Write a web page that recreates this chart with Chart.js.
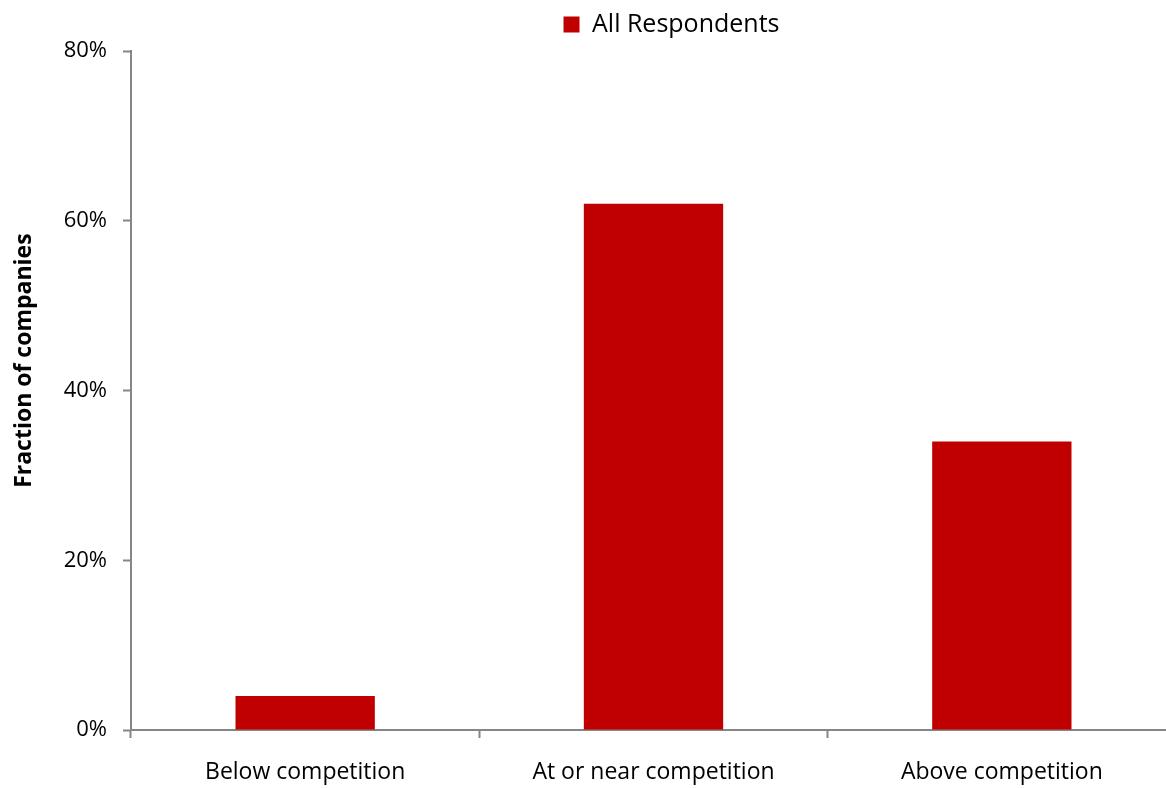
<!DOCTYPE html>
<html>
<head>
<meta charset="utf-8">
<script src="https://cdn.jsdelivr.net/npm/chart.js@4/dist/chart.umd.min.js"></script>
<style>
  html, body { margin: 0; padding: 0; background: #fff; overflow: hidden; }
  #wrap { width: 1180px; height: 788px; }
</style>
</head>
<body>
<div id="wrap"><canvas id="pricing-chart"></canvas></div>
<script>
const categories = ['Below competition', 'At or near competition', 'Above competition'];
const allRespondents = [4, 62, 34];
const yTicks = [0, 20, 40, 60, 80];

const axisGray = '#868686';
const barRed = '#C00000';

// rotated axis title, drawn a little above the middle of the axis
const sideTitle = {
    id: 'sideTitle',
    afterDraw(chart) {
        const c = chart.ctx;
        const area = chart.chartArea;
        c.save();
        c.translate(24, area.top + (area.bottom - area.top) * 0.456);
        c.rotate(-Math.PI / 2);
        c.font = 'bold 23px "Open Sans"';
        c.fillStyle = '#000';
        c.textAlign = 'center';
        c.textBaseline = 'middle';
        c.fillText('Fraction of companies', 0, 0);
        c.restore();
    }
};

// nudge the legend right of the plot centre and a bit higher
const legendShift = {
    id: 'legendShift',
    afterLayout(chart) {
        const lg = chart.legend;
        const area = chart.chartArea;
        const dx = (area.left + area.right) / 2 + 18 - (lg.left + lg.right) / 2;
        lg.left += dx;
        lg.right += dx;
        lg.top -= 4;
        lg.bottom -= 4;
    }
};

const ctx = document.getElementById('pricing-chart').getContext('2d');
const pricingChart = new Chart(ctx, {
    type: 'bar',
    data: {
        labels: categories,
        datasets: [{
            label: 'All Respondents',
            data: allRespondents,
            backgroundColor: barRed,
            borderWidth: 0,
            barPercentage: 0.4,
            categoryPercentage: 1.0
        }]
    },
    options: {
        responsive: true,
        maintainAspectRatio: false,
        animation: false,
        layout: {
            padding: { top: 8, right: 4, bottom: 0, left: 0 }
        },
        plugins: {
            legend: {
                position: 'top',
                labels: {
                    boxWidth: 16,
                    boxHeight: 16,
                    padding: 8,
                    color: '#000',
                    font: { family: '"Open Sans"', size: 25 }
                }
            },
            tooltip: { enabled: false }
        },
        scales: {
            x: {
                offset: true,
                grid: {
                    offset: true,
                    drawOnChartArea: false,
                    drawTicks: true,
                    tickLength: 8,
                    tickWidth: 2,
                    tickColor: axisGray
                },
                border: { color: axisGray, width: 2 },
                ticks: {
                    padding: 21,
                    color: '#000',
                    font: { family: '"Open Sans"', size: 23 }
                },
                afterFit(scale) { scale.height = 58; }
            },
            y: {
                min: 0,
                max: 80,
                afterBuildTicks(scale) {
                    scale.ticks = yTicks.map(v => ({ value: v }));
                },
                grid: {
                    drawOnChartArea: false,
                    drawTicks: true,
                    tickLength: 8,
                    tickWidth: 2,
                    tickColor: axisGray
                },
                border: { color: axisGray, width: 2 },
                ticks: {
                    padding: 16,
                    color: '#000',
                    font: { family: '"Open Sans"', size: 22 },
                    callback: v => v + '%'
                },
                afterFit(scale) { scale.width = 131; }
            }
        }
    },
    plugins: [sideTitle, legendShift]
});
</script>
</body>
</html>
